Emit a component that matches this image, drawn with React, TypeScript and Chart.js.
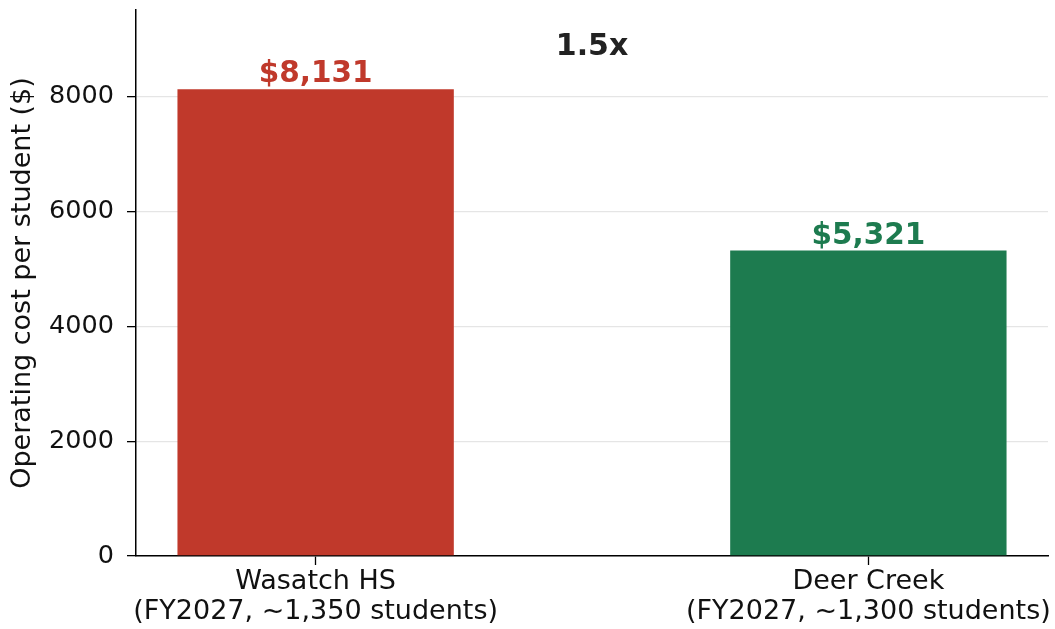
import React, { useEffect, useRef } from "react";
import { Chart, registerables } from "chart.js";

Chart.register(...registerables);

const categories: string[][] = [
  ["Wasatch HS", "(FY2027, ~1,350 students)"],
  ["Deer Creek", "(FY2027, ~1,300 students)"],
];
const values: number[] = [8131, 5321];
const valueLabels: string[] = ["$8,131", "$5,321"];
const barColors: string[] = ["#C0392B", "#1D7B4F"];
const ratioLabel = "1.5x";
const yTicks: number[] = [0, 2000, 4000, 6000, 8000];
const yTitle = "Operating cost per student ($)";

const FONT = "'DejaVu Sans', sans-serif";

export default function App() {
  const ref = useRef<HTMLCanvasElement | null>(null);

  useEffect(() => {
    if (!ref.current) return;
    const maxV = Math.max(...values);
    const labelPlugin = {
      id: "barLabels",
      afterDatasetsDraw(chart: any) {
        const ctx = chart.ctx;
        const xs = chart.scales.x;
        const ys = chart.scales.y;
        ctx.save();
        ctx.textAlign = "center";
        ctx.textBaseline = "alphabetic";
        ctx.font = `bold 29.5px ${FONT}`;
        values.forEach((v, i) => {
          ctx.fillStyle = barColors[i];
          ctx.fillText(valueLabels[i], xs.getPixelForValue(i), ys.getPixelForValue(v) - 7);
        });
        ctx.fillStyle = "#222222";
        ctx.font = `bold 30px ${FONT}`;
        ctx.textBaseline = "middle";
        ctx.fillText(ratioLabel, xs.getPixelForValue(0.5), ys.getPixelForValue(maxV * 1.09));
        ctx.restore();
      },
    };

    const chart = new Chart(ref.current, {
      type: "bar",
      data: {
        datasets: [
          {
            data: values.map((v, i) => ({ x: i, y: v })),
            backgroundColor: barColors,
            borderWidth: 0,
            categoryPercentage: 0.5,
            barPercentage: 1,
          },
        ],
      },
      options: {
        animation: false,
        responsive: false,
        layout: { padding: { top: 10, right: 7, left: 0, bottom: 0 } },
        plugins: { legend: { display: false }, tooltip: { enabled: false } },
        scales: {
          x: {
            type: "linear",
            offset: false,
            min: -0.325,
            max: 1.325,
            afterBuildTicks: (s: any) => {
              s.ticks = categories.map((_, i) => ({ value: i }));
            },
            afterFit: (s: any) => {
              s.height = 73;
              s.paddingLeft = 0;
              s.paddingRight = 0;
            },
            grid: {
              offset: false,
              drawOnChartArea: false,
              drawTicks: true,
              tickLength: 9,
              tickColor: "#000000",
              tickWidth: 1.3,
            },
            border: { color: "#000000", width: 1.5 },
            ticks: {
              color: "#111111",
              font: { family: FONT, size: 27, lineHeight: 1.1 },
              padding: 2,
              maxRotation: 0,
              autoSkip: false,
              callback: (v: any) => categories[Math.round(Number(v))] ?? "",
            },
          },
          y: {
            min: 0,
            max: maxV * 1.17,
            afterBuildTicks: (s: any) => {
              s.ticks = yTicks.map((v) => ({ value: v }));
            },
            afterFit: (s: any) => {
              s.width = 136;
              s.paddingTop = 0;
              s.paddingBottom = 0;
            },
            grid: {
              color: "#E5E5E5",
              lineWidth: 1.3,
              drawTicks: true,
              tickLength: 9,
              tickColor: "#000000",
              tickWidth: 1.3,
            },
            border: { color: "#000000", width: 1.5 },
            ticks: {
              color: "#111111",
              font: { family: FONT, size: 25.5 },
              padding: 13,
              callback: (v: any) => String(v),
            },
            title: {
              display: true,
              text: yTitle,
              color: "#111111",
              font: { family: FONT, size: 27 },
              padding: { top: 7, bottom: 0 },
            },
          },
        },
      },
      plugins: [labelPlugin],
    } as any);
    return () => chart.destroy();
  }, []);

  return (
    <div style={{ position: "absolute", left: 0, top: 0, width: 1055, height: 629, background: "#fff" }}>
      <canvas ref={ref} width={1055} height={629} />
    </div>
  );
}
